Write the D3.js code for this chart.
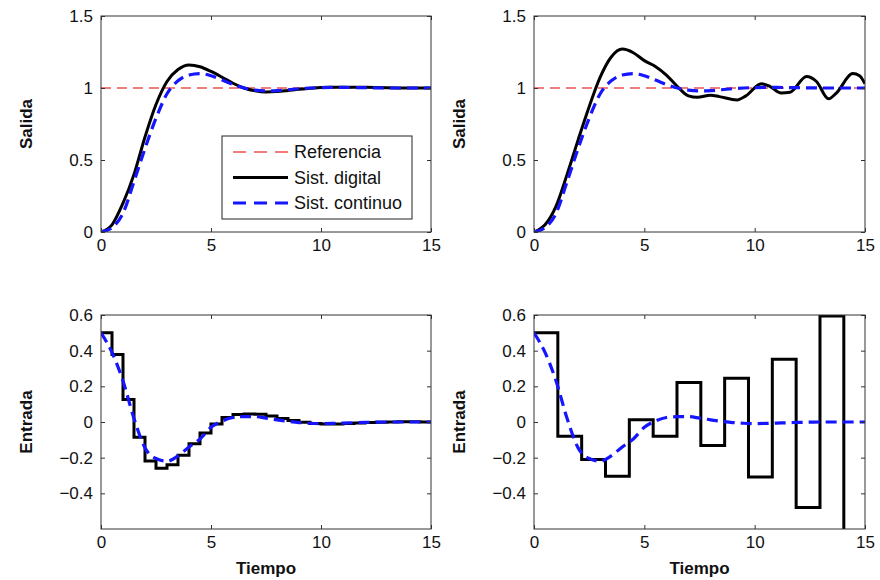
<!DOCTYPE html>
<html>
<head>
<meta charset="utf-8">
<script src="https://cdn.jsdelivr.net/npm/d3@7/dist/d3.min.js"></script>
<style>
body { margin: 0; background: #fff; }
text { font-family: "Liberation Sans", Arial, Helvetica, sans-serif; fill: #111; }
</style>
</head>
<body>
<div id="chart"></div>
<script>
// tick labels
var xTicks = [0, 5, 10, 15];
var yTicksSalida = [0, 0.5, 1, 1.5];
var yTicksEntrada = [-0.4, -0.2, 0, 0.2, 0.4, 0.6];
var legendLabels = ["Referencia", "Sist. digital", "Sist. continuo"];

// time grid, T = 0.5
var tGrid = [0, 0.5, 1, 1.5, 2, 2.5, 3, 3.5, 4, 4.5, 5, 5.5, 6, 6.5, 7, 7.5,
    8, 8.5, 9, 9.5, 10, 10.5, 11, 11.5, 12, 12.5, 13, 13.5, 14, 14.5, 15];

// reference (step)
var tRef = [0, 15];
var ref = [1, 1];

// salida - sistema continuo (both top panels)
var salidaContinuo = [0, 0.03, 0.13, 0.35, 0.58, 0.79, 0.96, 1.05, 1.09, 1.1, 1.085,
    1.055, 1.025, 1.0, 0.985, 0.98, 0.982, 0.988, 0.995, 1.0, 1.003, 1.004, 1.004,
    1.003, 1.002, 1.001, 1.0, 1.0, 1.0, 1.0, 1.0];

// salida - sistema digital, T = 0.5
var salidaDigital1 = [0, 0.05, 0.2, 0.4, 0.66, 0.885, 1.045, 1.128, 1.16, 1.148, 1.115,
    1.075, 1.033, 1.0, 0.98, 0.972, 0.975, 0.983, 0.992, 0.998, 1.003, 1.005, 1.006,
    1.006, 1.005, 1.003, 1.001, 1.0, 1.0, 1.0, 1.0];

// salida - sistema digital, T grande
var tSalida2 = [0, 0.5, 1, 1.5, 2, 2.5, 3, 3.5, 4, 4.5, 5, 5.5, 6, 6.5, 7, 7.4, 8, 8.4,
    9.2, 9.6, 10.3, 10.7, 11.2, 11.6, 12.35, 12.8, 13.35, 13.7, 14.45, 14.75, 15];
var salidaDigital2 = [0, 0.05, 0.18, 0.4, 0.64, 0.87, 1.075, 1.215, 1.27, 1.245, 1.19,
    1.15, 1.09, 1.01, 0.945, 0.935, 0.95, 0.94, 0.917, 0.945, 1.03, 1.01, 0.965, 0.97,
    1.08, 1.045, 0.925, 0.965, 1.1, 1.085, 1.03];

// entrada - sistema continuo
var entradaContinuo = [0.5, 0.39, 0.23, 0.02, -0.145, -0.205, -0.22, -0.19, -0.14,
    -0.095, -0.03, 0.005, 0.025, 0.03, 0.03, 0.022, 0.012, 0.004, -0.003, -0.007,
    -0.009, -0.008, -0.006, -0.004, -0.002, -0.001, 0, 0, 0, 0, 0];

// entrada - sistema digital, T = 0.5 (stairs)
var entradaDigital1 = [0.5, 0.379, 0.126, -0.086, -0.219, -0.259, -0.24, -0.187,
    -0.122, -0.062, -0.011, 0.025, 0.042, 0.045, 0.043, 0.033, 0.02, 0.008, -0.002,
    -0.008, -0.011, -0.011, -0.009, -0.006, -0.003, -0.001, 0, 0.001, 0.001, 0, 0];

// entrada - sistema digital, T grande (stairs)
var tEntrada2 = [0, 1.08, 2.16, 3.24, 4.32, 5.4, 6.48, 7.56, 8.64, 9.72, 10.8, 11.88, 12.96, 14.04];
var entradaDigital2 = [0.5, -0.08, -0.21, -0.304, 0.013, -0.08, 0.222, -0.132, 0.246,
    -0.309, 0.352, -0.48, 0.595, -0.75];

var W = 880, H = 580;
var fontTick = 17, fontLabel = 17, fontLegend = 18;
var axisColor = "#333";
var red = "#ee5050", blue = "#1515ff";

var svg = d3.select("#chart").append("svg")
    .attr("width", W)
    .attr("height", H);
svg.append("rect").attr("width", W).attr("height", H).attr("fill", "#fff");

function zip(t, v) {
    return t.map(function(d, i) { return [d, v[i]]; });
}

function fmt(d) {
    return String(d).replace("-", "\u2212");
}

var panels = [
    {id: "a", left: 101, top: 16, w: 330, h: 216, yDomain: [0, 1.5], yTicks: yTicksSalida, yLabel: "Salida",
     series: [
        {data: zip(tRef, ref), color: red, width: 1.6, dash: "10,6", curve: d3.curveLinear},
        {data: zip(tGrid, salidaDigital1), color: "#000", width: 3, dash: null, curve: d3.curveMonotoneX},
        {data: zip(tGrid, salidaContinuo), color: blue, width: 3.2, dash: "11,6", curve: d3.curveMonotoneX}
     ], legend: true},
    {id: "b", left: 534, top: 16, w: 331, h: 216, yDomain: [0, 1.5], yTicks: yTicksSalida, yLabel: "Salida",
     series: [
        {data: zip(tRef, ref), color: red, width: 1.6, dash: "10,6", curve: d3.curveLinear},
        {data: zip(tSalida2, salidaDigital2), color: "#000", width: 3, dash: null, curve: d3.curveMonotoneX},
        {data: zip(tGrid, salidaContinuo), color: blue, width: 3.2, dash: "11,6", curve: d3.curveMonotoneX}
     ]},
    {id: "c", left: 101, top: 315, w: 330, h: 214, yDomain: [-0.6, 0.6], yTicks: yTicksEntrada, yLabel: "Entrada", xLabel: "Tiempo",
     series: [
        {data: zip(tGrid, entradaDigital1), color: "#000", width: 3, dash: null, curve: d3.curveStepAfter},
        {data: zip(tGrid, entradaContinuo), color: blue, width: 3.2, dash: "11,6", curve: d3.curveMonotoneX}
     ]},
    {id: "d", left: 534, top: 315, w: 331, h: 214, yDomain: [-0.6, 0.6], yTicks: yTicksEntrada, yLabel: "Entrada", xLabel: "Tiempo",
     series: [
        {data: zip(tEntrada2, entradaDigital2).concat([[15, entradaDigital2[entradaDigital2.length - 1]]]),
         color: "#000", width: 3, dash: null, curve: d3.curveStepAfter},
        {data: zip(tGrid, entradaContinuo), color: blue, width: 3.2, dash: "11,6", curve: d3.curveMonotoneX}
     ]}
];

panels.forEach(function(p) {
    var g = svg.append("g").attr("transform", "translate(" + p.left + "," + p.top + ")");

    var x = d3.scaleLinear().domain([0, 15]).range([0, p.w]);
    var y = d3.scaleLinear().domain(p.yDomain).range([p.h, 0]);

    g.append("clipPath").attr("id", "clip-" + p.id)
        .append("rect").attr("width", p.w).attr("height", p.h);

    var plot = g.append("g").attr("clip-path", "url(#clip-" + p.id + ")");

    p.series.forEach(function(s) {
        var line = d3.line()
            .x(function(d) { return x(d[0]); })
            .y(function(d) { return y(d[1]); })
            .curve(s.curve);
        plot.append("path")
            .datum(s.data)
            .attr("d", line)
            .attr("fill", "none")
            .attr("stroke", s.color)
            .attr("stroke-width", s.width)
            .attr("stroke-dasharray", s.dash)
            .attr("stroke-linejoin", "miter");
    });

    // axes, ticks pointing inward on all four sides
    var styleAxis = function(a) {
        a.select(".domain").remove();
        a.selectAll(".tick line").attr("stroke", axisColor);
        a.selectAll(".tick text").style("font-size", fontTick + "px").attr("fill", "#111");
    };
    g.append("g").attr("transform", "translate(0," + p.h + ")")
        .call(d3.axisBottom(x).tickValues(xTicks).tickSize(-4).tickPadding(7).tickFormat(fmt))
        .call(styleAxis);
    g.append("g")
        .call(d3.axisTop(x).tickValues(xTicks).tickSize(-4).tickFormat(""))
        .call(styleAxis);
    g.append("g")
        .call(d3.axisLeft(y).tickValues(p.yTicks).tickSize(-4).tickPadding(8).tickFormat(fmt))
        .call(styleAxis);
    g.append("g").attr("transform", "translate(" + p.w + ",0)")
        .call(d3.axisRight(y).tickValues(p.yTicks).tickSize(-4).tickFormat(""))
        .call(styleAxis);

    g.append("rect")
        .attr("width", p.w).attr("height", p.h)
        .attr("fill", "none")
        .attr("stroke", axisColor)
        .attr("stroke-width", 1);

    g.append("text")
        .attr("transform", "translate(-69," + (p.h / 2) + ") rotate(-90)")
        .attr("text-anchor", "middle")
        .style("font-size", fontLabel + "px")
        .style("font-weight", "bold")
        .text(p.yLabel);

    if (p.xLabel) {
        g.append("text")
            .attr("x", p.w / 2)
            .attr("y", 574 - p.top)
            .attr("text-anchor", "middle")
            .style("font-size", fontLabel + "px")
            .style("font-weight", "bold")
            .text(p.xLabel);
    }

    if (p.legend) {
        var lg = g.append("g").attr("transform", "translate(121,120)");
        lg.append("rect")
            .attr("width", 190).attr("height", 83)
            .attr("fill", "#fff")
            .attr("stroke", "#222")
            .attr("stroke-width", 1);
        var rows = [
            {color: red, width: 1.6, dash: "13,8"},
            {color: "#000", width: 3, dash: null},
            {color: blue, width: 3.2, dash: "13,8"}
        ];
        rows.forEach(function(r, i) {
            var cy = 16 + i * 25.5;
            lg.append("line")
                .attr("x1", 11).attr("x2", 66)
                .attr("y1", cy).attr("y2", cy)
                .attr("stroke", r.color)
                .attr("stroke-width", r.width)
                .attr("stroke-dasharray", r.dash);
            lg.append("text")
                .attr("x", 72).attr("y", cy)
                .attr("dy", "0.35em")
                .style("font-size", fontLegend + "px")
                .text(legendLabels[i]);
        });
    }
});
</script>
</body>
</html>
